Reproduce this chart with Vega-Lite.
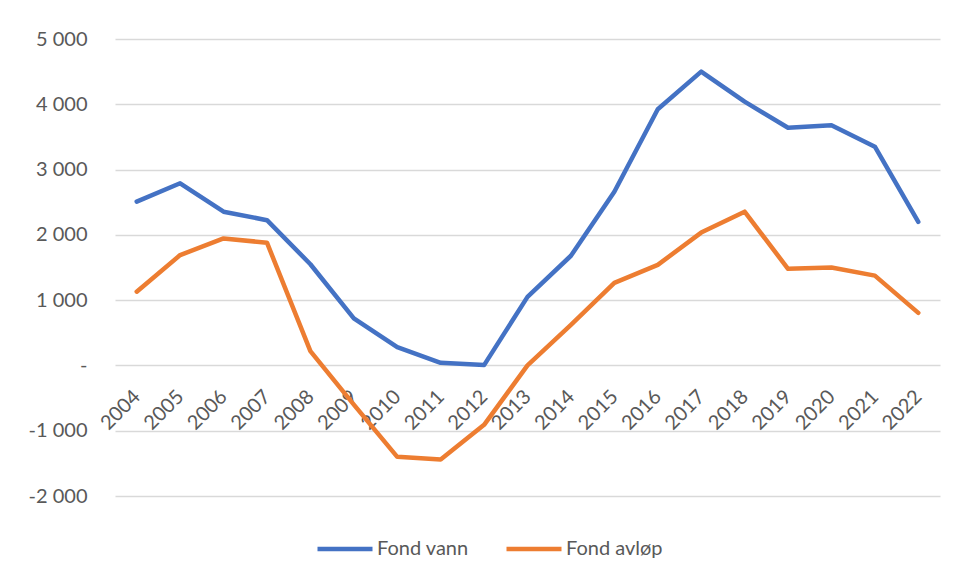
{
  "$schema": "https://vega.github.io/schema/vega-lite/v6.json",
  "width": 825,
  "height": 457,
  "autosize": {"type": "none"},
  "padding": {"left": 115, "top": 39, "right": 17, "bottom": 84},
  "background": "white",
  "config": {
    "view": {"stroke": null},
    "font": "Lato",
    "axis": {"labelFont": "Lato", "labelFontSize": 20, "labelColor": "#595959"},
    "legend": {"labelFont": "Lato", "labelFontSize": 20, "labelColor": "#595959"}
  },
  "data": {
    "values": [
      {"year": "2004", "series": "Fond vann", "value": 2510},
      {"year": "2005", "series": "Fond vann", "value": 2790},
      {"year": "2006", "series": "Fond vann", "value": 2355},
      {"year": "2007", "series": "Fond vann", "value": 2225},
      {"year": "2008", "series": "Fond vann", "value": 1550},
      {"year": "2009", "series": "Fond vann", "value": 720},
      {"year": "2010", "series": "Fond vann", "value": 280},
      {"year": "2011", "series": "Fond vann", "value": 40},
      {"year": "2012", "series": "Fond vann", "value": 5},
      {"year": "2013", "series": "Fond vann", "value": 1050},
      {"year": "2014", "series": "Fond vann", "value": 1680},
      {"year": "2015", "series": "Fond vann", "value": 2660},
      {"year": "2016", "series": "Fond vann", "value": 3925},
      {"year": "2017", "series": "Fond vann", "value": 4500},
      {"year": "2018", "series": "Fond vann", "value": 4040},
      {"year": "2019", "series": "Fond vann", "value": 3640},
      {"year": "2020", "series": "Fond vann", "value": 3680},
      {"year": "2021", "series": "Fond vann", "value": 3350},
      {"year": "2022", "series": "Fond vann", "value": 2200},
      {"year": "2004", "series": "Fond avløp", "value": 1130},
      {"year": "2005", "series": "Fond avløp", "value": 1690},
      {"year": "2006", "series": "Fond avløp", "value": 1945},
      {"year": "2007", "series": "Fond avløp", "value": 1880},
      {"year": "2008", "series": "Fond avløp", "value": 220},
      {"year": "2009", "series": "Fond avløp", "value": -600},
      {"year": "2010", "series": "Fond avløp", "value": -1400},
      {"year": "2011", "series": "Fond avløp", "value": -1440},
      {"year": "2012", "series": "Fond avløp", "value": -910},
      {"year": "2013", "series": "Fond avløp", "value": 0},
      {"year": "2014", "series": "Fond avløp", "value": 620},
      {"year": "2015", "series": "Fond avløp", "value": 1265},
      {"year": "2016", "series": "Fond avløp", "value": 1540},
      {"year": "2017", "series": "Fond avløp", "value": 2035},
      {"year": "2018", "series": "Fond avløp", "value": 2355},
      {"year": "2019", "series": "Fond avløp", "value": 1480},
      {"year": "2020", "series": "Fond avløp", "value": 1500},
      {"year": "2021", "series": "Fond avløp", "value": 1375},
      {"year": "2022", "series": "Fond avløp", "value": 805}
    ]
  },
  "mark": {"type": "line", "interpolate": "linear", "strokeWidth": 4.5, "strokeCap": "round", "strokeJoin": "round"},
  "encoding": {
    "x": {
      "field": "year",
      "type": "ordinal",
      "scale": {"type": "point", "padding": 0.5},
      "axis": {
        "title": null,
        "orient": "bottom",
        "offset": -130.6,
        "domain": false,
        "ticks": false,
        "grid": false,
        "labelAngle": -45,
        "labelAlign": "right",
        "labelBaseline": "middle",
        "labelPadding": 28
      }
    },
    "y": {
      "field": "value",
      "type": "quantitative",
      "scale": {"domain": [-2000, 5000], "nice": false, "zero": false},
      "axis": {
        "title": null,
        "values": [-2000, -1000, 0, 1000, 2000, 3000, 4000, 5000],
        "domain": false,
        "ticks": false,
        "grid": true,
        "gridColor": "#d9d9d9",
        "gridWidth": 1.5,
        "labelPadding": 28,
        "labelAlign": "right",
        "labelExpr": "datum.value == 0 ? '-\u00a0\u00a0\u00a0' : replace(replace(format(datum.value, ','), ',', ' '), '\u2212', '-')"
      }
    },
    "color": {
      "field": "series",
      "type": "nominal",
      "scale": {"domain": ["Fond vann", "Fond avløp"], "range": ["#4472C4", "#ED7D31"]},
      "legend": {
        "title": null,
        "orient": "none",
        "direction": "horizontal",
        "legendX": 200,
        "legendY": 480,
        "symbolType": "stroke",
        "symbolSize": 3025,
        "symbolStrokeWidth": 4.5,
        "labelOffset": 2,
        "columnPadding": 28
      }
    }
  }
}
